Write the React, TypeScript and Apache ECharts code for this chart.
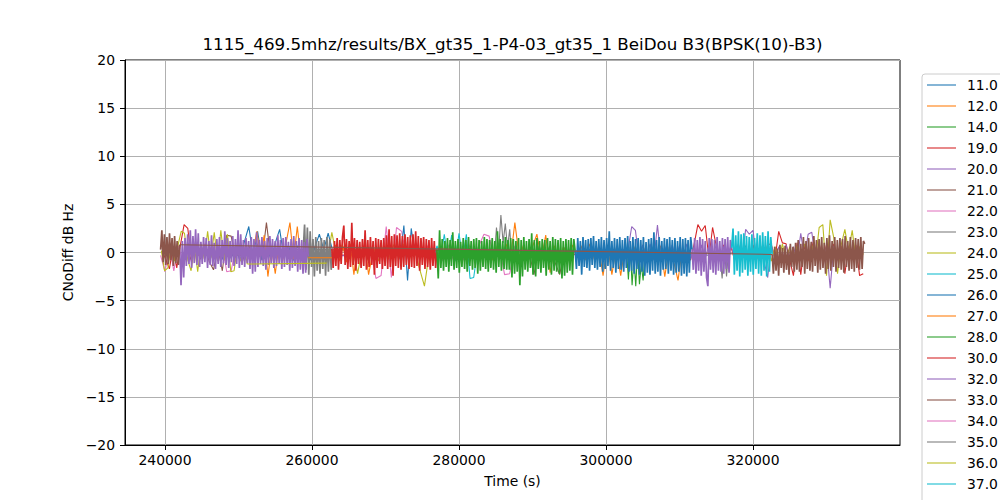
import React, { useEffect, useRef } from "react";
import * as echarts from "echarts";

const TITLE = "1115_469.5mhz/results/BX_gt35_1-P4-03_gt35_1 BeiDou B3(BPSK(10)-B3)";
const X_NAME = "Time (s)";
const Y_NAME = "CNoDiff dB Hz";
const LEGEND_NAMES = ["11.0", "12.0", "14.0", "19.0", "20.0", "21.0", "22.0", "23.0", "24.0", "25.0", "26.0", "27.0", "28.0", "30.0", "32.0", "33.0", "34.0", "35.0", "36.0", "37.0", "41.0"];
const PALETTE = ["#1f77b4", "#ff7f0e", "#2ca02c", "#d62728", "#9467bd", "#8c564b", "#e377c2", "#7f7f7f", "#bcbd22", "#17becf"];
const X_TICKS = [240000, 260000, 280000, 300000, 320000];
const X_MIN = 234558;
const X_MAX = 340000;
const Y_MIN = -20;
const Y_MAX = 20;
const Y_STEP = 5;

// ---- series values (CNoDiff, dB Hz), evenly sampled between each run's start and end times ----
const pink22 = [-0.3, -2.0, 0.6, -1.9, 0.7, -0.8, 0.5, -1.0, 0.8, -0.6, 0.9, -0.7, 0.6, -0.9, 0.7, -2.0, -1.9, 0.5, -0.8, 0.6, -0.7, 0.2];
const brown21a = [0.2, -0.8, 0.9, -0.7, 0.6, -0.9, -1.8, 0.5, -1.9, 1.8, 1.7, -0.6, 0.8, -0.9, 0.7, -0.5, 0.9, -0.8, 3.1, -0.6, 0.3];
const brown21b = [0.2, -2.3, 0.7, -0.8, 0.6, -0.9, -2.3, 0.5, -0.2];
const red19a = [0.2, -0.7, -1.7, 0.6, -1.6, 0.8, 2.9, 2.5, -0.7, 0.6, -0.3];
const red19b = [-0.2, -0.8, 0.9, 2.9, 2.2, 2.8, -0.6, 2.6, 0.7, -0.9, 0.8, -0.7, 0.6, -0.8, 0.9, -0.6, 0.7, -0.9, 0.8, -0.7, 0.6, -0.8, 0.9, 0.8, -0.6, 2.2, 1.0, 0.9, -0.8, -2.4, 1.0, -2.3, 0.8, -0.9, 1.1, -0.7, 0.9, -0.8, 0.8, -0.6, 0.9, -0.8, 0.7, -2.2, 0.6, -0.7, 0.8, -2.4, -2.2];
const pink34 = [0.3, -2.7, -2.4, 2.7, -2.6, 2.6, 2.2, -0.7, 0.8, 0.9, -0.6, 0.7, -0.8, 0.6, -0.9, 0.8, -0.7, 0.6, -0.8, 0.9, -0.6, 0.7, 1.9, 1.7, -0.8, 0.6, -2.3, -2.2, 0.7, -0.3];
const gray23a = [0.2, -0.6, 2.6, 0.2, 3.9, 1.0, 3.0, 0.5, 2.4, -0.7, 0.1];
const gray23b = [-0.3, -2.7, 0.5, -2.5, 0.4, -0.2];
const cyan25 = [0.2, -0.8, 0.7, -0.6, 1.9, -0.7, 1.8, -0.9, 2.0, -0.6, 1.9, -2.7, -2.6, 0.1];
const blue11 = [0.3, -0.8, 0.6, -0.7, 0.9, -0.6, 0.7, -0.9, 1.1, 2.7, -0.4, 2.2, -0.8, 0.6, -0.7, 1.0, 2.4, -0.6, 0.8, -0.9, 0.7, -0.5, 0.9, -0.8, 0.6, 1.9, 0.3, 2.0, 0.2];
const blue41 = [0.2, -0.7, 2.8, -2.9, 2.5, -0.3];
const orange27 = [0.3, -0.8, 0.7, -0.6, 0.9, -0.7, 3.1, -0.5, 0.8, -0.9, 0.6, 1.9, -0.7, 1.8, -2.1, 0.7, -0.8, 0.6, -0.9, 0.8, -0.6, 0.7, -0.8, 0.9, -0.7, 0.6, -2.4, 0.8, -2.3, 0.5, -2.4, 0.7, -0.8, 0.6, -0.9, 0.8, -0.7, 0.6, -0.8, 0.7, -2.5, 0.6, -0.9, -2.9, 0.5, -0.2];
const green14 = [0.2, -2.8, 0.6, -3.4, -0.6, -3.5, 0.3, -3.3, -1.2, -2.9, 0.1];
const purple32b = [0.3, 2.7, 2.3, -0.7, 0.8, -0.6, 0.9, -0.8, 2.85, -0.7, 0.6, -0.9, 0.8, -0.6, 0.7, -0.8, 0.9, -0.7, 0.6, -0.9, 0.8, -0.6, 0.7, -0.8, 0.9, -0.7, 0.6, -0.9, 0.8, -0.6, 0.7, -0.8, 2.4, 1.9, 2.3, -0.7, 0.8, -0.9, -2.6, 0.7, -0.8, 0.6, -0.9, 0.8, -0.7, 0.6, -0.8, 2.0, -0.6, 1.9, 2.1, -0.7, 0.8, -0.9, 0.6, -3.7, 0.7, -0.8, 0.2];
const olive36 = [0.2, -0.7, 0.8, -0.6, 0.7, -0.9, 0.6, -0.8, 0.9, -0.7, 0.6, -0.8, 0.7, -0.6, 0.9, -0.7, 0.8, -0.9, 2.6, 2.9, -2.4, 3.4, 1.5, -2.2, 0.8, 2.4, 0.2, 2.3, -0.7, 0.6, -0.2];
const olive24a = [0.2, -1.9, -1.6, 0.8, -0.9, 0.7, 2.2, 2.0, -0.8, -1.9, 0.6, -2.0, 0.9, -0.7, 2.2, -0.6, 2.1, -0.9, 2.3, -0.8, 1.9, -2.0, -1.9, 0.6, -0.9, 0.5, -1.2];
const olive24b = [-1.1, 2.1, -0.6, 0.8, -0.7, 0.9, -2.2, 0.6, -0.8, 0.7, -0.9, 0.6, -0.7, 0.8, -0.6, 0.9, -0.8, 0.7, -1.6, -3.5, 0.2];
const orange12a = [0.2, 2.2, -0.4, 1.8, -2.5, 0.5, -2.2, 0.7, -0.9, 1.1, 3.1, -0.7, 2.7, -0.8, 0.9, -0.55];
const orange12b = [-0.55, 0.8, -0.9, 0.7, -1.0, 0.9, -2.3, 0.6, -0.8, 0.7, -2.3, -0.3];
const gray35 = [0.2, 2.9, -1.8, 2.6, -2.3, 2.2, -1.5, 1.4, -2.5, 1.6, -1.9, 1.2, -2.2, 1.5, -1.7, 1.3, -2.4, 1.6, -2.0, 1.4, -1.8, 0.4];
const purple32a = [
  0.5, -3.4, 1.2, -2.6, 1.5, -1.4, 1.9, -1.2, 2.3, -1.6,
  1.7, -1.1, 2.4, -1.3, 2.0, -1.5, 1.1, -1.2, 1.6, -1.0,
  1.5, -1.6, 1.2, -1.3, 1.8, -1.4, 1.0, -1.7, 1.4, -1.2,
  1.6, -1.5, 1.3, -1.1, 2.2, -1.3, 1.5, -1.6, 1.2, -1.0,
  1.7, -1.4, 1.4, -1.2, 2.3, -1.6, 1.9, -1.3, 1.3, -1.5,
  1.5, -1.1, 1.2, -1.7, 1.6, -2.2, 1.4, -2.0, 2.1, -1.5,
  1.3, -1.2, 1.6, -1.4, 1.2, -1.8, 1.5, -1.3, 1.7, -1.1,
  1.4, -1.6, 1.2, -1.4, 1.8, -1.2, 1.3, -1.7, 1.5, -1.5,
  1.6, -1.3, 1.1, -1.9, 1.4, -1.6, 1.7, -1.4, 1.2, -2.0,
  1.5, -1.8, 1.3, -2.2, 1.1, -2.1, 1.4, -0.4,
];
const red30 = [
  0.4, -1.6, 1.2, -1.4, 1.5, -1.8, 1.3, -1.2, 1.6, 2.8,
  -1.3, 1.4, -1.7, 1.2, -1.5, 3.1, -1.3, 1.5, -1.9, 1.3,
  -1.2, 1.1, -1.6, 1.4, -1.4, 2.3, -1.8, 1.3, -1.5, 1.6,
  -1.3, 1.2, -2.3, 1.5, -1.6, 1.4, -1.2, 1.3, -1.7, 1.5,
  -1.4, 1.8, -1.7, 2.4, -1.5, 1.7, -2.4, 1.9, -1.4, 1.8,
  -1.6, 2.0, -1.8, 1.7, -1.5, 1.9, -1.3, 1.6, -1.7, 1.8,
  -1.5, 1.9, -1.6, 2.2, -1.4, 1.7, -1.9, 1.5, -1.3, 1.6,
  -1.7, 1.4, -1.5, 1.3, -1.8, 1.5, -1.4, 1.2, -1.6, 0.3,
];
const green28 = [
  0.3, -2.7, 2.3, -1.6, 1.4, -1.9, 1.2, -1.5, 1.5, -2.0,
  1.3, -1.4, 2.1, -1.8, 1.2, -1.6, 1.4, -2.1, 1.1, -1.5,
  1.5, -1.7, 1.3, -2.0, 1.6, -1.4, 1.2, -1.8, 1.4, -1.6,
  1.5, -2.2, 1.3, -1.9, 1.2, -1.5, 1.6, -1.7, 1.4, -2.0,
  1.3, -1.6, 1.5, -1.8, 1.2, -2.1, 2.2, -1.5, 1.4, -1.9,
  1.2, -1.7, 1.6, -1.8, 1.3, -1.8, 1.5, -2.6, 1.4, -2.2,
  1.2, -2.0, 1.5, -3.4, 1.3, -2.5, 1.6, -1.8, 1.2, -2.0,
  1.4, -1.6, 2.0, -2.3, 1.3, -2.5, 1.5, -1.7, 1.2, -2.1,
  1.4, -1.6, 1.3, -2.4, 1.5, -1.8, 1.2, -2.3, 1.6, -1.9,
  1.4, -2.0, 1.3, -2.2, 1.5, -2.7, 1.2, -2.4, 1.4, -2.1,
  1.3, -1.9, 1.5, -2.3, 1.4, 0.2,
];
const blue26 = [
  0.2, -1.7, 1.5, -1.4, 1.2, -2.3, 1.6, -1.5, 1.3, -1.6,
  1.4, -1.9, 1.5, -1.3, 1.7, -1.6, 1.2, -1.8, 1.4, -1.5,
  1.6, -2.0, 1.3, -1.7, 1.5, -1.4, 2.2, -1.9, 1.2, -1.6,
  1.5, -2.1, 1.4, -1.7, 1.6, -1.8, 1.3, -2.0, 1.5, -1.6,
  1.7, -2.0, 1.2, -1.9, 1.6, -2.2, 1.4, -1.7, 1.5, -2.3,
  1.3, -2.0, 1.6, -2.4, 1.1, -2.1, 1.4, -2.3, 1.5, -1.9,
  2.1, -2.2, 1.3, -2.0, 1.6, -2.4, 1.2, -1.8, 1.5, -1.7,
  1.4, -2.2, 1.6, -1.9, 1.3, -2.3, 1.5, -2.1, 1.2, -2.0,
  1.6, -2.4, 1.4, -2.2, 1.5, -2.5, 1.3, -2.1, 1.6, 0.3,
];
const purple20 = [0.3, -1.8, 1.5, -2.2, 1.3, -1.9, 1.6, -2.4, 1.4, -2.0, 1.2, -2.6, -3.5, 1.5, -1.8, 1.4, -2.1, 1.3, -2.3, 1.6, -1.9, 1.2, -2.0, 1.5, -2.2, 1.4, -1.7, 1.6, -2.1, 1.3, 0.4];
const cyan37 = [0.5, 2.5, -2.3, 1.8, -1.9, 2.2, -2.5, 1.9, -2.1, 2.0, -1.8, 1.7, -2.4, 1.6, -2.0, 1.9, -2.3, 1.5, -1.7, 2.0, -2.2, 1.8, -2.4, 2.1, -1.9, 1.7, -2.5, 2.2, -2.0, 1.6, -0.2];
const brown33a = [0.3, 2.3, -1.0, 1.9, -1.3, 1.6, -1.2, 2.0, -0.8, 1.5, -1.4, 1.7, -1.1, 1.2, -1.3, 0.8];
const brown33b = [
  -0.2, -2.2, 0.6, -1.9, 0.4, -2.4, 0.8, -1.6, 0.5, -2.1,
  0.7, -1.8, 0.3, -2.3, 0.9, -1.5, 0.6, -2.0, 1.0, -1.8,
  1.3, -2.0, 0.9, -1.5, 1.6, -2.2, 1.2, -1.7, 1.5, -1.9,
  1.1, -2.0, 1.7, -1.4, 1.3, -2.1, 1.4, -1.8, 1.6, -1.6,
  1.0, -2.2, 1.5, -1.7, 1.8, -1.9, 1.2, -1.5, 1.6, -2.0,
  1.3, -1.6, 1.5, -1.8, 1.4, -2.1, 1.7, -1.5, 1.2, -1.9,
  1.6, -1.7, 1.3, -2.0, 1.5, -1.6, 1.4, -1.8, 1.6, -1.7,
  1.2, 0.9,
];

type Run = { name: string; t0: number; t1: number; v: number[]; layer: number; link?: number };

// runs of each logged series (start / end time in s); layer = drawing order
const RUNS: Run[] = [
  { name: "22.0", t0: 239400, t1: 252000, v: pink22, layer: 1 },
  { name: "21.0", t0: 243000, t1: 255000, v: brown21a, layer: 1 },
  { name: "21.0", t0: 289500, t1: 295100, v: brown21b, layer: 1 },
  { name: "19.0", t0: 239600, t1: 244600, v: red19a, layer: 1 },
  { name: "19.0", t0: 311000, t1: 335000, v: red19b, layer: 1 },
  { name: "34.0", t0: 268000, t1: 288300, v: pink34, layer: 1 },
  { name: "23.0", t0: 284500, t1: 287500, v: gray23a, layer: 1 },
  { name: "23.0", t0: 315500, t1: 317000, v: gray23b, layer: 1 },
  { name: "25.0", t0: 276000, t1: 282500, v: cyan25, layer: 1 },
  { name: "11.0", t0: 246000, t1: 262800, v: blue11, layer: 2 },
  { name: "41.0", t0: 271500, t1: 274000, v: blue41, layer: 2 },
  { name: "27.0", t0: 284000, t1: 311000, v: orange27, layer: 2 },
  { name: "14.0", t0: 302800, t1: 305300, v: green14, layer: 2 },
  { name: "32.0", t0: 303000, t1: 332000, v: purple32b, layer: 2 },
  { name: "36.0", t0: 320000, t1: 335000, v: olive36, layer: 2 },
  { name: "24.0", t0: 239500, t1: 251200, v: olive24a, layer: 3, link: 8 },
  { name: "24.0", t0: 262000, t1: 276000, v: olive24b, layer: 3 },
  { name: "12.0", t0: 252000, t1: 259500, v: orange12a, layer: 3, link: 8 },
  { name: "12.0", t0: 262700, t1: 268200, v: orange12b, layer: 3 },
  { name: "35.0", t0: 258800, t1: 262800, v: gray35, layer: 5 },
  { name: "32.0", t0: 242000, t1: 259500, v: purple32a, layer: 6, link: 2 },
  { name: "30.0", t0: 262700, t1: 277000, v: red30, layer: 6 },
  { name: "28.0", t0: 277000, t1: 295800, v: green28, layer: 6 },
  { name: "26.0", t0: 295800, t1: 311700, v: blue26, layer: 6 },
  { name: "20.0", t0: 311700, t1: 317100, v: purple20, layer: 6 },
  { name: "37.0", t0: 317100, t1: 322600, v: cyan37, layer: 6 },
  { name: "33.0", t0: 239400, t1: 242000, v: brown33a, layer: 7, link: 9 },
  { name: "33.0", t0: 322600, t1: 335200, v: brown33b, layer: 7 },
];

const FONT = "DejaVu Sans";

function colorOf(name: string) {
  return PALETTE[LEGEND_NAMES.indexOf(name) % PALETTE.length];
}

function runPoints(r: Run) {
  const n = r.v.length;
  const dt = (r.t1 - r.t0) / (n - 1);
  return r.v.map((y, i) => [r.t0 + i * dt, y]);
}

function buildSeries() {
  const out: any[] = [];
  const mk = (name: string, data: number[][], z: number, width: number) => ({
    type: "line",
    name,
    data,
    z,
    showSymbol: false,
    symbol: "none",
    silent: true,
    animation: false,
    lineStyle: { color: colorOf(name), width },
    itemStyle: { color: colorOf(name) },
    emphasis: { disabled: true },
  });
  for (const r of RUNS) out.push(mk(r.name, runPoints(r), r.layer, r.layer >= 5 ? 1.7 : 1.1));
  // gap connectors between consecutive runs of the same series
  for (const name of LEGEND_NAMES) {
    const rs = RUNS.filter((r) => r.name === name).sort((a, b) => a.t0 - b.t0);
    for (let k = 0; k + 1 < rs.length; k++) {
      const a = rs[k];
      const b = rs[k + 1];
      const pa = runPoints(a);
      const pb = runPoints(b);
      const z = a.link !== undefined ? a.link : Math.min(a.layer, b.layer);
      out.push(mk(name, [pa[pa.length - 1], pb[0]], z, 1.1));
    }
  }
  return out;
}

export default function App() {
  const ref = useRef<HTMLDivElement>(null);
  useEffect(() => {
    if (!ref.current) return;
    const chart = echarts.init(ref.current, null, { renderer: "svg" });
    const axisText = { color: "#000", fontSize: 13.9, fontFamily: FONT };
    chart.setOption({
      animation: false,
      backgroundColor: "#fff",
      title: {
        text: TITLE,
        left: 512.5,
        top: 35,
        padding: 0,
        textAlign: "center",
        textStyle: { color: "#000", fontSize: 16.7, fontWeight: "normal", fontFamily: FONT },
      },
      legend: {
        data: LEGEND_NAMES,
        orient: "vertical",
        left: 922,
        top: 74,
        height: 900,
        padding: [4, 24, 5, 5],
        itemGap: 7,
        itemWidth: 29,
        itemHeight: 14,
        icon: "path://M0,0H28V1.4H0Z",
        symbolKeepAspect: true,
        itemStyle: { opacity: 0.75, borderWidth: 0 },
        textStyle: { color: "#000", fontSize: 13.9, fontFamily: FONT, lineHeight: 14, padding: [0, 0, 0, 6] },
        backgroundColor: "rgba(255,255,255,0.8)",
        borderColor: "#cccccc",
        borderWidth: 1,
        borderRadius: 3,
        selectedMode: false,
      },
      grid: {
        left: 125,
        top: 60,
        right: 100,
        bottom: 55,
        show: true,
        borderColor: "#000",
        borderWidth: 1,
        backgroundColor: "transparent",
      },
      xAxis: {
        type: "value",
        min: X_MIN,
        max: X_MAX,
        name: X_NAME,
        nameLocation: "middle",
        nameGap: 29,
        nameTextStyle: axisText,
        axisLine: { show: true, onZero: false, lineStyle: { color: "#000", width: 1 } },
        axisTick: { show: true, length: 5, inside: false, lineStyle: { color: "#000", width: 1 }, customValues: X_TICKS },
        axisLabel: { ...axisText, margin: 8, customValues: X_TICKS, formatter: (v: number) => String(v) },
        splitLine: { show: true, lineStyle: { color: "#b0b0b0", width: 1 } },
      },
      yAxis: {
        type: "value",
        min: Y_MIN,
        max: Y_MAX,
        interval: Y_STEP,
        name: Y_NAME,
        nameLocation: "middle",
        nameGap: 45,
        nameTextStyle: axisText,
        axisLine: { show: true, onZero: false, lineStyle: { color: "#000", width: 1 } },
        axisTick: { show: true, length: 5, inside: false, lineStyle: { color: "#000", width: 1 } },
        axisLabel: { ...axisText, margin: 10, formatter: (v: number) => (v < 0 ? "\u2212" + Math.abs(v) : String(v)) },
        splitLine: { show: true, lineStyle: { color: "#b0b0b0", width: 1 } },
      },
      series: buildSeries(),
    });
    return () => chart.dispose();
  }, []);
  return (
    <div
      ref={ref}
      style={{ position: "fixed", left: 0, top: 0, width: 1000, height: 500, background: "#fff" }}
    />
  );
}
